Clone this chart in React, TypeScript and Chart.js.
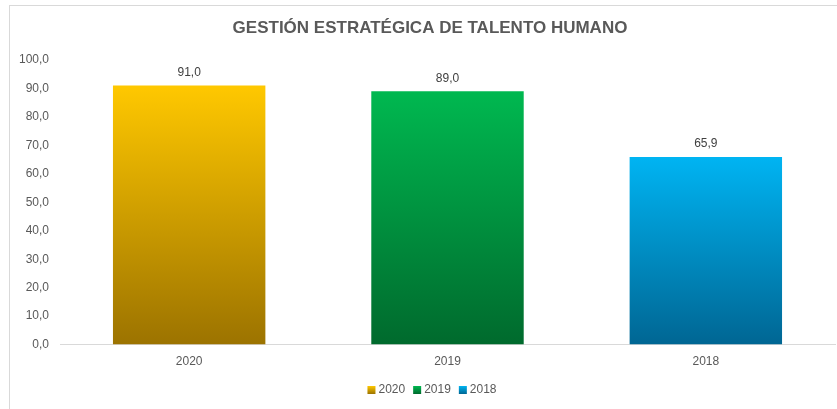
import React, { useEffect, useRef } from "react";
import { Chart, registerables } from "chart.js";

Chart.register(...registerables);

const categories = ["2020", "2019", "2018"];
const seriesNames = ["2020", "2019", "2018"];
const values = [91.0, 89.0, 65.9];
const topColors = ["#FFC800", "#00B850", "#00B4F2"];
const bottomColors = ["#9C7300", "#006A2D", "#006693"];
const yTicks = [0, 10, 20, 30, 40, 50, 60, 70, 80, 90, 100];
const titleText = "GESTIÓN ESTRATÉGICA DE TALENTO HUMANO";

const fmt = (v: number) => v.toFixed(1).replace(".", ",");
const FONT = "'Liberation Sans'";

export default function App() {
  const ref = useRef<HTMLCanvasElement | null>(null);
  useEffect(() => {
    if (!ref.current) return;
    const datasets = seriesNames.map((name, i) => ({
      label: name,
      data: categories.map((_, j) => (j === i ? values[i] : null)),
      backgroundColor: (ctx: any) => {
        const chart = ctx.chart;
        const area = chart.chartArea;
        const y = chart.scales && chart.scales.y;
        if (!area || !y || ctx.raw == null) return topColors[i];
        const top = y.getPixelForValue(ctx.raw);
        const bottom = y.getPixelForValue(0);
        const g = chart.ctx.createLinearGradient(0, top, 0, bottom);
        g.addColorStop(0, topColors[i]);
        g.addColorStop(1, bottomColors[i]);
        return g;
      },
      borderWidth: 0,
      skipNull: true,
      categoryPercentage: 0.59,
      barPercentage: 1,
    }));

    const decor = {
      id: "decor",
      beforeDraw(chart: any) {
        const c = chart.ctx;
        c.save();
        c.strokeStyle = "#D9D9D9";
        c.lineWidth = 1;
        c.strokeRect(9.5, 5.5, chart.width + 10, chart.height + 10);
        c.fillStyle = "#595959";
        c.font = `bold 17px ${FONT}`;
        c.textAlign = "center";
        c.textBaseline = "middle";
        c.fillText(titleText, 430, 28);
        c.restore();
      },
      afterDraw(chart: any) {
        const c = chart.ctx;
        c.save();
        c.font = `12px ${FONT}`;
        c.textBaseline = "middle";
        c.textAlign = "left";
        const widths = seriesNames.map((n) => c.measureText(n).width);
        const box = 8;
        const gapBoxText = 3;
        const gapItems = 8;
        let total = 0;
        widths.forEach((w, i) => {
          total += box + gapBoxText + w + (i < widths.length - 1 ? gapItems : 0);
        });
        let x = 432 - total / 2;
        const y = 390;
        seriesNames.forEach((n, i) => {
          const g = c.createLinearGradient(0, y - box / 2, 0, y + box / 2);
          g.addColorStop(0, topColors[i]);
          g.addColorStop(1, bottomColors[i]);
          c.fillStyle = g;
          c.fillRect(x, y - box / 2, box, box);
          x += box + gapBoxText;
          c.fillStyle = "#595959";
          c.fillText(n, x, y);
          x += widths[i] + gapItems;
        });
        c.restore();
      },
    };
    const labels = {
      id: "valueLabels",
      afterDatasetsDraw(chart: any) {
        const c = chart.ctx;
        c.save();
        c.font = `12px ${FONT}`;
        c.fillStyle = "#404040";
        c.textAlign = "center";
        c.textBaseline = "bottom";
        chart.data.datasets.forEach((ds: any, i: number) => {
          const meta = chart.getDatasetMeta(i);
          meta.data.forEach((el: any, j: number) => {
            const v = ds.data[j];
            if (v == null) return;
            c.fillText(fmt(v), el.x, el.y - 7);
          });
        });
        c.restore();
      },
    };

    const chart = new Chart(ref.current, {
      type: "bar",
      data: { labels: categories, datasets: datasets as any },
      options: {
        animation: false,
        responsive: false,
        layout: { padding: { left: 0, right: 2, top: 60, bottom: 38 } },
        plugins: {
          title: { display: false },
          legend: { display: false },
          tooltip: { enabled: false },
        },
        scales: {
          x: {
            grid: { display: false },
            border: { display: true, color: "#D9D9D9" },
            ticks: {
              color: "#595959",
              font: { family: FONT, size: 12 },
              padding: 2,
            },
          },
          y: {
            min: 0,
            max: 100,
            afterFit: (s: any) => {
              s.width = 60;
            },
            afterBuildTicks: (s: any) => {
              s.ticks = yTicks.map((v) => ({ value: v }));
            },
            grid: { display: false },
            border: { display: false },
            ticks: {
              color: "#595959",
              font: { family: FONT, size: 12 },
              padding: 3,
              callback: (v: any) => fmt(Number(v)),
            },
          },
        },
      },
      plugins: [decor, labels],
    });
    return () => chart.destroy();
  }, []);
  return (
    <div style={{ position: "fixed", left: 0, top: 0, width: 837, height: 409, background: "#fff" }}>
      <canvas ref={ref} width={837} height={409} style={{ width: 837, height: 409 }} />
    </div>
  );
}
